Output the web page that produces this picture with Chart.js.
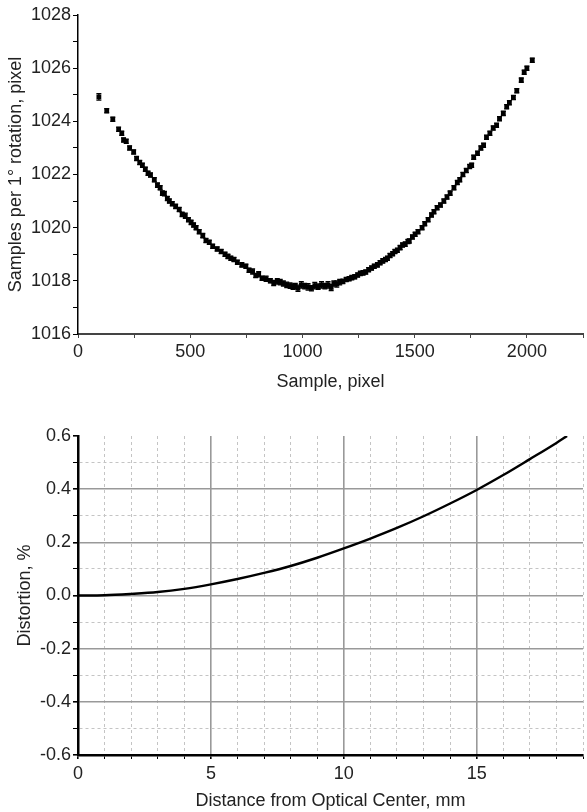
<!DOCTYPE html>
<html>
<head>
<meta charset="utf-8">
<script src="https://cdn.jsdelivr.net/npm/chart.js@4.4.1/dist/chart.umd.min.js"></script>
<style>
  body { margin: 0; background: #fff; }
  .wrap { position: absolute; left: 0; width: 587px; }
  #topWrap { top: 0; height: 400px; }
  #bottomWrap { top: 400px; height: 412px; }
</style>
</head>
<body>
<div class="wrap" id="topWrap"><canvas id="samplesChart" width="587" height="400"></canvas></div>
<div class="wrap" id="bottomWrap"><canvas id="distortionChart" width="587" height="412"></canvas></div>
<script>
// top plot: samples per 1 degree of rotation vs sample position
const samplePos = [93, 128, 155, 181, 195, 203, 215, 230, 248, 261, 275, 287, 300, 312, 323, 340, 354, 366, 376, 385,
  398, 407, 420, 435, 451, 464, 478, 492, 504, 515, 526, 540, 556, 570, 585, 600, 620, 638, 655, 668,
  681, 695, 710, 730, 748, 762, 778, 792, 805, 820, 838, 857, 872, 888, 901, 915, 930, 945, 958, 968,
  980, 995, 1010, 1025, 1040, 1055, 1070, 1085, 1100, 1114, 1128, 1140, 1153, 1166, 1180, 1195, 1208, 1220, 1233, 1246,
  1258, 1270, 1282, 1295, 1308, 1320, 1334, 1346, 1358, 1370, 1379, 1390, 1402, 1412, 1423, 1435, 1446, 1458, 1470, 1476,
  1490, 1502, 1515, 1533, 1545, 1560, 1575, 1586, 1600, 1615, 1630, 1644, 1658, 1675, 1690, 1701, 1715, 1730, 1745, 1754,
  1763, 1780, 1795, 1807, 1820, 1835, 1850, 1865, 1878, 1895, 1910, 1922, 1940, 1955, 1975, 1988, 2000, 2024];
const samplesPerDeg = [1024.92, 1024.40, 1024.08, 1023.70, 1023.55, 1023.30, 1023.25, 1023.00, 1022.85, 1022.60, 1022.45, 1022.35, 1022.20, 1022.05, 1021.98, 1021.80, 1021.60, 1021.50, 1021.30, 1021.28,
  1021.10, 1021.00, 1020.90, 1020.80, 1020.68, 1020.50, 1020.45, 1020.30, 1020.20, 1020.10, 1020.00, 1019.85, 1019.70, 1019.52, 1019.45, 1019.30, 1019.20, 1019.10, 1019.00, 1018.92,
  1018.85, 1018.80, 1018.70, 1018.60, 1018.55, 1018.40, 1018.35, 1018.20, 1018.25, 1018.10, 1018.08, 1018.00, 1017.92, 1017.98, 1017.95, 1017.90, 1017.85, 1017.82, 1017.78, 1017.80,
  1017.72, 1017.85, 1017.80, 1017.77, 1017.72, 1017.82, 1017.78, 1017.85, 1017.80, 1017.85, 1017.75, 1017.90, 1017.88, 1017.95, 1017.98, 1018.05, 1018.08, 1018.12, 1018.15, 1018.22,
  1018.28, 1018.30, 1018.33, 1018.42, 1018.48, 1018.55, 1018.60, 1018.68, 1018.75, 1018.80, 1018.85, 1018.95, 1019.02, 1019.10, 1019.15, 1019.25, 1019.35, 1019.38, 1019.48, 1019.50,
  1019.65, 1019.75, 1019.85, 1020.00, 1020.15, 1020.30, 1020.48, 1020.60, 1020.75, 1020.85, 1021.00, 1021.15, 1021.30, 1021.50, 1021.70, 1021.80, 1022.00, 1022.15, 1022.30, 1022.35,
  1022.65, 1022.80, 1023.00, 1023.10, 1023.40, 1023.55, 1023.75, 1023.85, 1024.10, 1024.30, 1024.55, 1024.70, 1024.90, 1025.15, 1025.55, 1025.85, 1026.00, 1026.30];
const samplesErr = [0.12, 0.08, 0.08, 0.08, 0.08, 0.08, 0.08, 0.08, 0.08, 0.08, 0.08, 0.08, 0.08, 0.08, 0.08, 0.08, 0.08, 0.08, 0.08, 0.08,
  0.08, 0.08, 0.08, 0.08, 0.08, 0.08, 0.1, 0.08, 0.08, 0.08, 0.08, 0.08, 0.08, 0.08, 0.08, 0.08, 0.08, 0.08, 0.08, 0.08,
  0.08, 0.08, 0.08, 0.08, 0.08, 0.08, 0.1, 0.08, 0.1, 0.08, 0.1, 0.08, 0.1, 0.1, 0.1, 0.1, 0.1, 0.1, 0.1, 0.1,
  0.12, 0.12, 0.1, 0.12, 0.1, 0.12, 0.1, 0.12, 0.1, 0.12, 0.12, 0.1, 0.12, 0.1, 0.08, 0.08, 0.08, 0.08, 0.08, 0.08,
  0.08, 0.08, 0.08, 0.08, 0.08, 0.08, 0.08, 0.08, 0.08, 0.08, 0.08, 0.08, 0.08, 0.08, 0.08, 0.08, 0.08, 0.08, 0.08, 0.08,
  0.08, 0.08, 0.08, 0.08, 0.08, 0.08, 0.08, 0.08, 0.08, 0.08, 0.08, 0.08, 0.08, 0.08, 0.08, 0.08, 0.08, 0.08, 0.08, 0.08,
  0.08, 0.08, 0.08, 0.08, 0.08, 0.08, 0.08, 0.08, 0.08, 0.08, 0.08, 0.08, 0.08, 0.08, 0.08, 0.08, 0.08, 0.08];

// bottom plot: lens distortion vs distance from optical centre
const distanceMm = [0, 1, 2, 3, 4, 5, 6, 7, 8, 9, 10, 11, 12, 13, 14, 15, 16, 17, 18, 18.4];
const distortionPct = [0, 0.001, 0.006, 0.013, 0.025, 0.042, 0.062, 0.085, 0.111, 0.142, 0.177, 0.214, 0.254, 0.298, 0.346, 0.397, 0.453, 0.513, 0.574, 0.6];

const FONT = 'Liberation Sans, Arial, sans-serif';
const tickFont = { family: FONT, size: 18 };
const titleFont = { family: FONT, size: 18 };

// vertical error bars drawn through the chart's own scales
const errorBars = {
  id: 'errorBars',
  afterDatasetsDraw(chart) {
    const { ctx, scales } = chart;
    const meta = chart.getDatasetMeta(0);
    ctx.save();
    ctx.strokeStyle = '#000';
    ctx.lineWidth = 1.3;
    meta.data.forEach((pt, i) => {
      const yTop = scales.y.getPixelForValue(samplesPerDeg[i] + samplesErr[i]);
      const yBot = scales.y.getPixelForValue(samplesPerDeg[i] - samplesErr[i]);
      ctx.beginPath();
      ctx.moveTo(pt.x, yTop);
      ctx.lineTo(pt.x, yBot);
      ctx.moveTo(pt.x - 2.5, yTop);
      ctx.lineTo(pt.x + 2.5, yTop);
      ctx.moveTo(pt.x - 2.5, yBot);
      ctx.lineTo(pt.x + 2.5, yBot);
      ctx.stroke();
    });
    ctx.restore();
  }
};

new Chart(document.getElementById('samplesChart'), {
  type: 'scatter',
  data: {
    datasets: [{
      data: samplePos.map((x, i) => ({ x, y: samplesPerDeg[i] })),
      backgroundColor: '#000',
      borderColor: '#000',
      pointStyle: 'rect',
      pointRadius: 3.4,
      borderWidth: 0
    }]
  },
  options: {
    responsive: false,
    devicePixelRatio: 1,
    animation: false,
    layout: { padding: { top: 15, right: 0, left: 0, bottom: 0 } },
    plugins: { legend: { display: false }, tooltip: { enabled: false } },
    scales: {
      x: {
        type: 'linear',
        min: 0, max: 2250,
        afterFit: (s) => { s.height = 66; },
        grid: { drawOnChartArea: false, tickLength: 4, tickColor: '#444' },
        border: { color: '#444', width: 2 },
        ticks: {
          stepSize: 250, autoSkip: false, maxRotation: 0, includeBounds: false,
          padding: 3, color: '#222', font: tickFont,
          callback: (v) => (v % 500 === 0 ? v : '')
        },
        title: { display: true, text: 'Sample, pixel', color: '#222', font: titleFont, padding: { top: 0, bottom: 7 } }
      },
      y: {
        min: 1016, max: 1028,
        afterFit: (s) => { s.width = 78; },
        grid: { drawOnChartArea: false, tickLength: 5, tickColor: '#000' },
        border: { color: '#000', width: 1.5 },
        ticks: {
          stepSize: 1, autoSkip: false, padding: 2, color: '#222', font: tickFont,
          callback: (v) => (v % 2 === 0 ? v : '')
        },
        title: { display: true, text: 'Samples per 1\u00b0 rotation, pixel', color: '#222', font: titleFont, padding: { top: 5, bottom: 0 } }
      }
    }
  },
  plugins: [errorBars]
});

const isMajorX = (v) => Math.abs(v % 5) < 1e-6;
const isMajorY = (v) => Math.abs(Math.round(v * 10)) % 2 === 0;

new Chart(document.getElementById('distortionChart'), {
  type: 'line',
  data: {
    datasets: [{
      data: distanceMm.map((x, i) => ({ x, y: distortionPct[i] })),
      borderColor: '#000',
      borderWidth: 2.4,
      pointRadius: 0,
      cubicInterpolationMode: 'monotone',
      fill: false
    }]
  },
  options: {
    responsive: false,
    devicePixelRatio: 1,
    animation: false,
    layout: { padding: { top: 36, right: 0, left: 0, bottom: 0 } },
    plugins: { legend: { display: false }, tooltip: { enabled: false } },
    scales: {
      x: {
        type: 'linear',
        min: 0, max: 19,
        afterFit: (s) => { s.height = 57; },
        grid: {
          tickLength: 4, tickColor: '#000',
          color: (c) => (c.tick && c.tick.value === 0 ? 'rgba(0,0,0,0)' : (c.tick && isMajorX(c.tick.value) ? '#999' : '#c4c4c4')),
          lineWidth: (c) => (c.tick && isMajorX(c.tick.value) ? 1.6 : 1)
        },
        border: {
          color: '#000', width: 2.5,
          dash: (c) => (c.tick && !isMajorX(c.tick.value) ? [3, 3] : [])
        },
        ticks: {
          stepSize: 1, autoSkip: false, maxRotation: 0, includeBounds: false,
          padding: 4, color: '#222', font: tickFont,
          callback: (v) => (isMajorX(v) ? v : '')
        },
        title: { display: true, text: 'Distance from Optical Center, mm', color: '#222', font: titleFont, padding: { top: 0, bottom: 0 } }
      },
      y: {
        min: -0.6, max: 0.6,
        afterFit: (s) => { s.width = 78; },
        grid: {
          tickLength: 5, tickColor: '#000',
          color: (c) => {
            if (!c.tick || Math.abs(c.tick.value) > 0.59) return 'rgba(0,0,0,0)';
            return isMajorY(c.tick.value) ? '#999' : '#c4c4c4';
          },
          lineWidth: (c) => (c.tick && isMajorY(c.tick.value) ? 1.6 : 1)
        },
        border: {
          color: '#000', width: 2.5,
          dash: (c) => (c.tick && !isMajorY(c.tick.value) ? [3, 3] : [])
        },
        ticks: {
          stepSize: 0.1, autoSkip: false, padding: 2, color: '#222', font: tickFont,
          callback: (v) => (isMajorY(v) ? v.toFixed(1) : '')
        },
        title: { display: true, text: 'Distortion, %', color: '#222', font: titleFont, padding: { top: 14, bottom: 0 } }
      }
    }
  }
});
</script>
</body>
</html>
